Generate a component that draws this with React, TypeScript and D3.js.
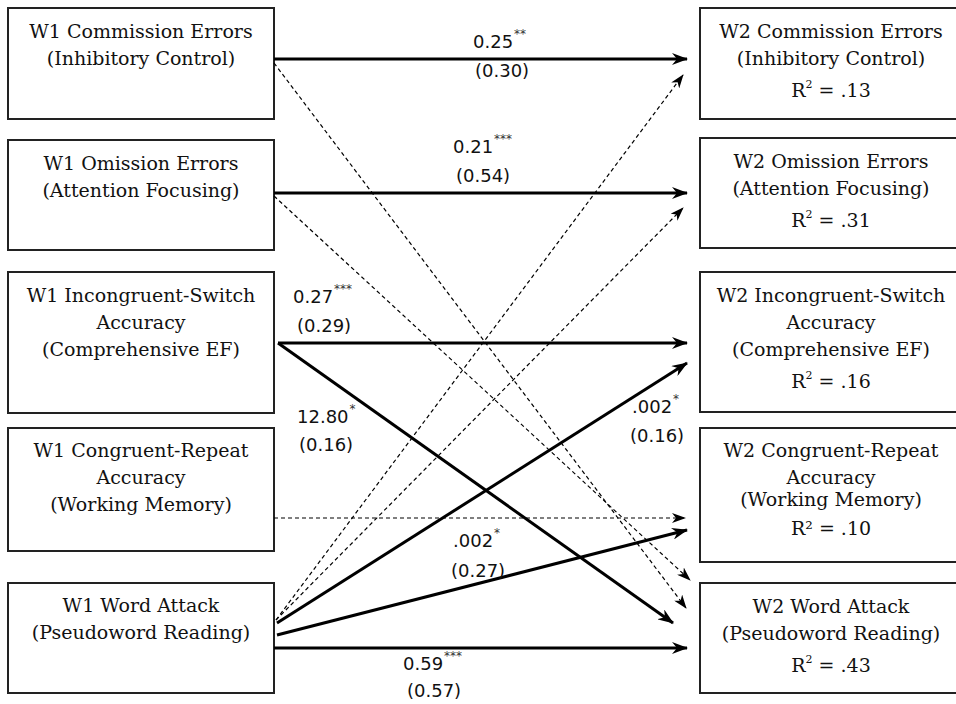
import { useEffect, useRef } from "react"
import * as d3 from "d3"

// Predictor boxes (Wave 1)
const leftLabels = [
  ["W1 Commission Errors", "(Inhibitory Control)"],
  ["W1 Omission Errors", "(Attention Focusing)"],
  ["W1 Incongruent-Switch", "Accuracy", "(Comprehensive EF)"],
  ["W1 Congruent-Repeat", "Accuracy", "(Working Memory)"],
  ["W1 Word Attack", "(Pseudoword Reading)"],
]

// Outcome boxes (Wave 2)
const rightLabels = [
  ["W2 Commission Errors", "(Inhibitory Control)"],
  ["W2 Omission Errors", "(Attention Focusing)"],
  ["W2 Incongruent-Switch", "Accuracy", "(Comprehensive EF)"],
  ["W2 Congruent-Repeat", "Accuracy", "(Working Memory)"],
  ["W2 Word Attack", "(Pseudoword Reading)"],
]
const rSquared = [".13", ".31", ".16", ".10", ".43"]

// Paths: from / to box index, significant or not, estimate, stars, standardized
const pathFrom = [0, 1, 2, 2, 4, 4, 4, 0, 1, 3, 4, 4]
const pathTo = [0, 1, 2, 4, 2, 3, 4, 4, 4, 3, 0, 1]
const pathSig = [true, true, true, true, true, true, true, false, false, false, false, false]
const pathEst = ["0.25", "0.21", "0.27", "12.80", ".002", ".002", "0.59", "", "", "", "", ""]
const pathStars = ["**", "***", "***", "*", "*", "*", "***", "", "", "", "", ""]
const pathStd = ["(0.30)", "(0.54)", "(0.29)", "(0.16)", "(0.16)", "(0.27)", "(0.57)", "", "", "", "", ""]

export default function App() {
  const svgRef = useRef<SVGSVGElement>(null)

  useEffect(() => {
    if (!svgRef.current) return
    document.body.style.margin = "0"
    const svg = d3.select(svgRef.current)
    svg.selectAll("*").remove()

    const width = 956
    const height = 704
    svg.attr("width", width).attr("height", height)

    // layout of the boxes
    const leftX = [8, 274]
    const rightX = [700, 962]
    const leftY = [[8, 119], [140, 250], [272, 413], [428, 551], [583, 693]]
    const rightY = [[8, 119], [138, 248], [272, 412], [428, 562], [583, 693]]
    const leftBase = [38, 170, 302, 457, 612]
    const rightBase = [38, 168, 302, 457, 613]
    const lineGap = 27

    const serif = "'DejaVu Serif', serif"
    const sans = "'DejaVu Sans', sans-serif"

    svg.append("rect").attr("width", width).attr("height", height).attr("fill", "#fff")

    // arrow markers
    const defs = svg.append("defs")
    defs
      .append("marker")
      .attr("id", "headSolid")
      .attr("viewBox", "0 0 16 12")
      .attr("refX", 15)
      .attr("refY", 6)
      .attr("markerWidth", 16)
      .attr("markerHeight", 12)
      .attr("markerUnits", "userSpaceOnUse")
      .attr("orient", "auto")
      .append("path")
      .attr("d", "M0,0 L16,6 L0,12 L5,6 Z")
      .attr("fill", "#000")
    defs
      .append("marker")
      .attr("id", "headDash")
      .attr("viewBox", "0 0 14 10")
      .attr("refX", 13)
      .attr("refY", 5)
      .attr("markerWidth", 14)
      .attr("markerHeight", 10)
      .attr("markerUnits", "userSpaceOnUse")
      .attr("orient", "auto")
      .append("path")
      .attr("d", "M0,0 L14,5 L0,10 L4,5 Z")
      .attr("fill", "#000")

    // boxes
    const drawBoxes = (
      labels: string[][],
      xs: number[],
      ys: number[][],
      bases: number[],
      r2: string[] | null,
    ) => {
      const cx = xs[0] + (Math.min(xs[1], 956) - xs[0]) / 2 + (r2 ? 3 : 0)
      labels.forEach((lines, i) => {
        svg
          .append("rect")
          .attr("x", xs[0])
          .attr("y", ys[i][0])
          .attr("width", xs[1] - xs[0])
          .attr("height", ys[i][1] - ys[i][0])
          .attr("fill", "#fff")
          .attr("stroke", "#222")
          .attr("stroke-width", 2)
        lines.forEach((ln, j) => {
          // the right "Working Memory" line sits a little tighter
          const dy = r2 && i === 3 && j === 2 ? 2 * lineGap - 5 : j * lineGap
          svg
            .append("text")
            .attr("x", cx)
            .attr("y", bases[i] + dy)
            .attr("text-anchor", "middle")
            .style("font-family", serif)
            .style("font-size", "19px")
            .attr("fill", "#111")
            .text(ln)
        })
        if (r2) {
          const t = svg
            .append("text")
            .attr("x", cx)
            .attr("y", bases[i] + lines.length * lineGap + (i === 3 ? -3 : 5))
            .attr("text-anchor", "middle")
            .style("font-family", serif)
            .style("font-size", "19px")
            .attr("fill", "#111")
          if (i === 3) {
            t.text(`R\u00b2 = ${r2[i]}`)
          } else {
            t.append("tspan").text("R")
            t.append("tspan").attr("dy", -9).style("font-size", "11px").text("2")
            t.append("tspan").attr("dy", 9).text(` = ${r2[i]}`)
          }
        }
      })
    }
    drawBoxes(leftLabels, leftX, leftY, leftBase, null)
    drawBoxes(rightLabels, rightX, rightY, rightBase, rSquared)

    // anchor points of the paths on the boxes
    const anchorStart = [[274, 59], [274, 193], [278, 343], [278, 343], [277, 623], [277, 635], [274, 648], [274, 63], [274, 196], [274, 518], [276, 620], [276, 620]]
    const anchorEnd = [[687, 59], [687, 193], [687, 343], [673, 623], [687, 363], [687, 530], [687, 648], [686, 608], [690, 580], [685, 518], [683, 75], [683, 208]]

    const line = d3.line()
    const order = d3.range(pathFrom.length).sort((a, b) => Number(pathSig[a]) - Number(pathSig[b]))
    order.forEach((i) => {
      svg
        .append("path")
        .attr("class", `path-${pathFrom[i]}-${pathTo[i]}`)
        .attr("d", line([anchorStart[i] as [number, number], anchorEnd[i] as [number, number]]))
        .attr("fill", "none")
        .attr("stroke", "#000")
        .attr("stroke-width", pathSig[i] ? 3 : 1.2)
        .attr("stroke-dasharray", pathSig[i] ? null : "4,3")
        .attr("marker-end", pathSig[i] ? "url(#headSolid)" : "url(#headDash)")
    })

    // coefficient labels: [x of estimate, baseline of estimate, x of std, baseline of std]
    const labelPos = [
      [473, 48, 475, 77],
      [453, 153, 456, 182],
      [293, 303, 297, 332],
      [297, 423, 299, 451],
      [632, 413, 630, 442],
      [453, 547, 451, 577],
      [403, 670, 407, 697],
    ]
    labelPos.forEach((p, i) => {
      const t = svg
        .append("text")
        .attr("x", p[0])
        .attr("y", p[1])
        .style("font-family", sans)
        .style("font-size", "18px")
        .attr("fill", "#111")
      t.append("tspan").text(pathEst[i])
      t.append("tspan")
        .attr("dy", -10)
        .attr("dx", 1)
        .style("font-size", "12px")
        .attr("fill", "#333")
        .text(pathStars[i])
      svg
        .append("text")
        .attr("x", p[2])
        .attr("y", p[3])
        .style("font-family", sans)
        .style("font-size", "18px")
        .attr("fill", "#111")
        .text(pathStd[i])
    })
  }, [])

  return (
    <div style={{ width: 956, height: 704 }}>
      <svg ref={svgRef}></svg>
    </div>
  )
}
